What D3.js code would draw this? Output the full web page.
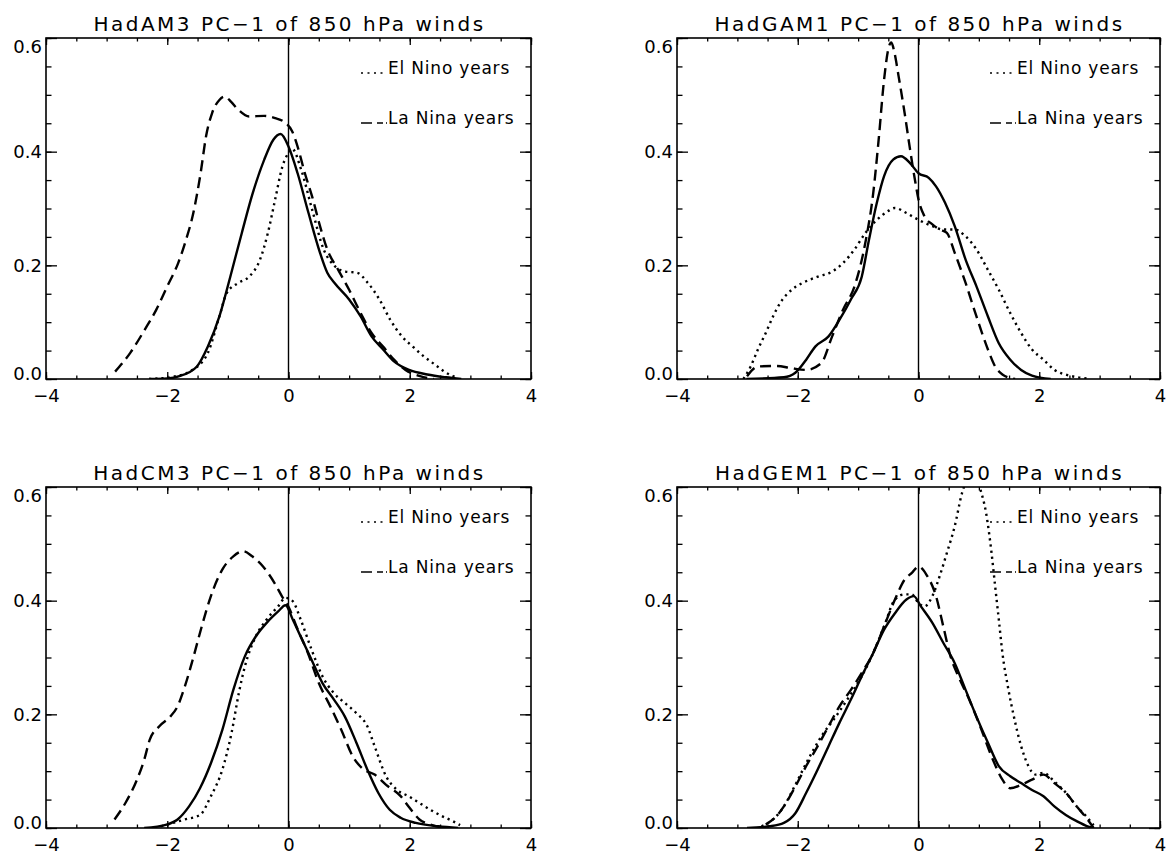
<!DOCTYPE html>
<html>
<head>
<meta charset="utf-8">
<script src="https://cdn.jsdelivr.net/npm/d3@7"></script>
<style>
  body { margin: 0; background: #fff; }
  svg { display: block; }
  text { font-family: "DejaVu Sans", sans-serif; fill: #000; }
</style>
</head>
<body>
<div id="chart"></div>
<script>
// panel titles, in reading order
const titles = [
  "HadAM3 PC\u22121 of 850 hPa winds",
  "HadGAM1 PC\u22121 of 850 hPa winds",
  "HadCM3 PC\u22121 of 850 hPa winds",
  "HadGEM1 PC\u22121 of 850 hPa winds"
]
const legendLabels = ["El Nino years", "La Nina years"]

const xTicks = [-4, -2, 0, 2, 4]
const yTicks = [0, 0.2, 0.4, 0.6]

// densities, [pc value, density]
// HadAM3
const hadam3All = [[-2.3,0],[-2.0,0.001],[-1.8,0.005],[-1.51,0.022],[-1.33,0.057],[-1.14,0.11],[-0.96,0.18],[-0.77,0.257],[-0.59,0.327],[-0.40,0.386],[-0.25,0.421],[-0.13,0.431],[0.0,0.409],[0.15,0.362],[0.33,0.292],[0.52,0.222],[0.64,0.187],[0.76,0.169],[1.0,0.14],[1.19,0.11],[1.37,0.075],[1.56,0.052],[1.74,0.031],[1.99,0.016],[2.29,0.008],[2.6,0.003],[2.85,0]]
const hadam3ElNino = [[-2.3,0],[-1.9,0.004],[-1.6,0.015],[-1.33,0.046],[-1.14,0.11],[-1.02,0.151],[-0.83,0.169],[-0.65,0.18],[-0.47,0.21],[-0.34,0.257],[-0.22,0.316],[-0.10,0.374],[0.0,0.398],[0.06,0.405],[0.21,0.368],[0.39,0.298],[0.58,0.228],[0.76,0.199],[0.94,0.189],[1.13,0.187],[1.31,0.169],[1.50,0.14],[1.68,0.104],[1.87,0.075],[2.05,0.057],[2.23,0.04],[2.42,0.025],[2.60,0.011],[2.79,0.002]]
const hadam3LaNina = [[-2.86,0.013],[-2.61,0.046],[-2.37,0.087],[-2.18,0.122],[-2.0,0.163],[-1.82,0.204],[-1.69,0.245],[-1.57,0.292],[-1.45,0.362],[-1.36,0.427],[-1.26,0.468],[-1.14,0.491],[-1.05,0.497],[-0.95,0.488],[-0.83,0.474],[-0.65,0.462],[-0.40,0.463],[-0.22,0.459],[-0.04,0.45],[0.06,0.436],[0.15,0.409],[0.27,0.362],[0.39,0.321],[0.52,0.269],[0.64,0.228],[0.82,0.192],[1.0,0.157],[1.19,0.116],[1.37,0.081],[1.56,0.057],[1.74,0.034],[1.93,0.016],[2.17,0.005],[2.4,0]]
// HadGAM1
const hadgam1All = [[-2.85,0],[-2.23,0.003],[-2.04,0.011],[-1.86,0.034],[-1.71,0.057],[-1.49,0.075],[-1.31,0.104],[-1.12,0.14],[-0.94,0.18],[-0.82,0.245],[-0.69,0.31],[-0.57,0.357],[-0.42,0.386],[-0.29,0.392],[-0.14,0.38],[0,0.362],[0.17,0.354],[0.29,0.339],[0.44,0.31],[0.60,0.269],[0.78,0.21],[0.96,0.163],[1.15,0.11],[1.33,0.063],[1.52,0.034],[1.70,0.016],[1.88,0.006],[2.19,0]]
const hadgam1ElNino = [[-2.9,0],[-2.78,0.022],[-2.66,0.052],[-2.53,0.081],[-2.41,0.11],[-2.29,0.134],[-2.10,0.157],[-1.92,0.169],[-1.67,0.18],[-1.43,0.189],[-1.25,0.204],[-1.06,0.228],[-0.88,0.257],[-0.69,0.28],[-0.51,0.295],[-0.39,0.301],[-0.20,0.292],[0,0.28],[0.23,0.269],[0.41,0.263],[0.60,0.263],[0.78,0.251],[0.96,0.228],[1.15,0.192],[1.33,0.157],[1.52,0.116],[1.70,0.081],[1.88,0.052],[2.07,0.034],[2.25,0.016],[2.50,0.006],[2.8,0.001]]
const hadgam1LaNina = [[-2.84,0.005],[-2.66,0.022],[-2.35,0.023],[-2.10,0.019],[-1.86,0.016],[-1.61,0.028],[-1.43,0.075],[-1.25,0.122],[-1.06,0.163],[-0.88,0.24],[-0.75,0.327],[-0.66,0.421],[-0.57,0.527],[-0.49,0.585],[-0.45,0.592],[-0.40,0.575],[-0.33,0.533],[-0.23,0.468],[-0.14,0.404],[-0.06,0.351],[0,0.316],[0.10,0.286],[0.23,0.272],[0.35,0.263],[0.47,0.257],[0.60,0.222],[0.78,0.169],[0.96,0.11],[1.15,0.052],[1.27,0.022],[1.39,0.008],[1.6,0]]
// HadCM3
const hadcm3All = [[-2.38,0],[-2.01,0.006],[-1.83,0.015],[-1.64,0.038],[-1.46,0.07],[-1.28,0.114],[-1.09,0.173],[-0.91,0.243],[-0.72,0.302],[-0.54,0.337],[-0.36,0.361],[-0.17,0.381],[-0.05,0.392],[0.07,0.367],[0.20,0.337],[0.38,0.296],[0.56,0.255],[0.75,0.226],[0.93,0.196],[1.12,0.15],[1.30,0.103],[1.48,0.062],[1.67,0.032],[1.85,0.018],[2.10,0.009],[2.47,0.003],[2.8,0]]
const hadcm3ElNino = [[-2.2,0],[-1.71,0.015],[-1.46,0.023],[-1.28,0.056],[-1.09,0.103],[-0.94,0.167],[-0.82,0.237],[-0.72,0.284],[-0.54,0.337],[-0.36,0.367],[-0.17,0.39],[-0.05,0.405],[0.07,0.399],[0.20,0.367],[0.38,0.314],[0.56,0.267],[0.75,0.237],[0.93,0.22],[1.12,0.202],[1.30,0.179],[1.42,0.144],[1.61,0.091],[1.79,0.067],[1.98,0.056],[2.16,0.044],[2.34,0.032],[2.53,0.021],[2.71,0.012],[2.83,0.005]]
const hadcm3LaNina = [[-2.87,0.015],[-2.69,0.044],[-2.50,0.085],[-2.38,0.12],[-2.29,0.155],[-2.13,0.179],[-1.95,0.196],[-1.83,0.214],[-1.71,0.249],[-1.58,0.296],[-1.43,0.355],[-1.28,0.408],[-1.09,0.455],[-0.91,0.478],[-0.75,0.487],[-0.60,0.478],[-0.42,0.46],[-0.23,0.431],[-0.11,0.408],[0.01,0.387],[0.13,0.355],[0.32,0.308],[0.50,0.255],[0.69,0.214],[0.87,0.173],[1.06,0.126],[1.24,0.103],[1.42,0.094],[1.61,0.076],[1.85,0.056],[1.98,0.038],[2.16,0.015],[2.34,0.006],[2.6,0]]
// HadGEM1
const hadgem1All = [[-2.84,0],[-2.47,0.003],[-2.23,0.009],[-2.04,0.026],[-1.86,0.062],[-1.67,0.103],[-1.49,0.144],[-1.31,0.185],[-1.12,0.226],[-0.94,0.267],[-0.75,0.308],[-0.57,0.349],[-0.39,0.378],[-0.20,0.402],[-0.08,0.408],[0.04,0.39],[0.23,0.361],[0.41,0.326],[0.60,0.29],[0.78,0.243],[0.96,0.196],[1.15,0.15],[1.33,0.109],[1.52,0.091],[1.70,0.079],[1.88,0.067],[2.07,0.056],[2.25,0.038],[2.44,0.023],[2.62,0.012],[2.80,0.003],[2.9,0]]
const hadgem1ElNino = [[-2.6,0.003],[-2.41,0.015],[-2.23,0.038],[-2.04,0.076],[-1.86,0.114],[-1.61,0.161],[-1.37,0.196],[-1.18,0.226],[-0.94,0.267],[-0.75,0.308],[-0.57,0.355],[-0.39,0.402],[-0.23,0.411],[-0.11,0.411],[0,0.396],[0.10,0.39],[0.23,0.408],[0.35,0.443],[0.47,0.484],[0.60,0.531],[0.72,0.589],[0.84,0.622],[0.93,0.63],[1.02,0.598],[1.12,0.554],[1.21,0.484],[1.27,0.425],[1.33,0.367],[1.39,0.308],[1.48,0.249],[1.58,0.196],[1.70,0.144],[1.82,0.109],[1.94,0.094],[2.07,0.097],[2.25,0.082],[2.44,0.062],[2.62,0.038],[2.80,0.018],[2.9,0.005]]
const hadgem1LaNina = [[-2.53,0.006],[-2.35,0.021],[-2.23,0.038],[-2.04,0.073],[-1.86,0.109],[-1.67,0.144],[-1.49,0.179],[-1.31,0.214],[-1.12,0.243],[-0.94,0.273],[-0.75,0.308],[-0.57,0.355],[-0.39,0.402],[-0.23,0.437],[-0.11,0.449],[0,0.46],[0.13,0.446],[0.29,0.408],[0.41,0.355],[0.53,0.302],[0.66,0.267],[0.84,0.226],[1.02,0.179],[1.21,0.126],[1.39,0.085],[1.52,0.07],[1.70,0.076],[1.88,0.085],[2.07,0.094],[2.25,0.079],[2.44,0.062],[2.62,0.038],[2.80,0.015],[2.9,0]]

const allYears = [hadam3All, hadgam1All, hadcm3All, hadgem1All]
const elNino = [hadam3ElNino, hadgam1ElNino, hadcm3ElNino, hadgem1ElNino]
const laNina = [hadam3LaNina, hadgam1LaNina, hadcm3LaNina, hadgem1LaNina]

const width = 1166
const height = 854
const colLeft = [46, 677]
const colWidth = [485, 483]
const rowTop = [38, 487]
const plotHeight = 341

const svg = d3.select("#chart").append("svg")
  .attr("width", width)
  .attr("height", height)

const defs = svg.append("defs")

titles.forEach((title, i) => {
  const col = i % 2
  const row = Math.floor(i / 2)
  const left = colLeft[col]
  const top = rowTop[row]
  const w = colWidth[col]

  const x = d3.scaleLinear().domain([-4, 4]).range([0, w])
  const y = d3.scaleLinear().domain([0, 0.6]).range([plotHeight, 0])

  const g = svg.append("g").attr("transform", `translate(${left},${top})`)

  defs.append("clipPath").attr("id", "clip" + i)
    .append("rect").attr("width", w).attr("height", plotHeight)

  // minor ticks on all four sides, pointing in
  const minorX = d3.range(-4, 4.001, 0.5)
  const minorY = d3.range(0, 0.6001, 0.05)
  const noLabels = g => g.selectAll("text").remove()
  const noDomain = g => g.select(".domain").remove()

  g.append("g").attr("transform", `translate(0,${plotHeight})`)
    .call(d3.axisBottom(x).tickValues(minorX).tickSize(-3.5).tickFormat(""))
    .call(noDomain).call(noLabels)
  g.append("g")
    .call(d3.axisTop(x).tickValues(minorX).tickSize(-3.5).tickFormat(""))
    .call(noDomain).call(noLabels)
  g.append("g")
    .call(d3.axisLeft(y).tickValues(minorY).tickSize(-5.5).tickFormat(""))
    .call(noDomain).call(noLabels)
  g.append("g").attr("transform", `translate(${w},0)`)
    .call(d3.axisRight(y).tickValues(minorY).tickSize(-5.5).tickFormat(""))
    .call(noDomain).call(noLabels)

  // major ticks + labels
  const xAxis = g.append("g").attr("transform", `translate(0,${plotHeight})`)
    .call(d3.axisBottom(x).tickValues(xTicks).tickSize(-7).tickPadding(10)
      .tickFormat(d => d < 0 ? "\u2212" + Math.abs(d) : d))
    .call(noDomain)
  xAxis.selectAll("text").attr("font-size", 18).attr("font-family", "DejaVu Sans")
    .attr("dy", "0.71em").attr("fill", "#000")

  g.append("g")
    .call(d3.axisTop(x).tickValues(xTicks).tickSize(-7).tickFormat(""))
    .call(noDomain).call(noLabels)

  const yAxis = g.append("g")
    .call(d3.axisLeft(y).tickValues(yTicks).tickSize(-11).tickPadding(-7)
      .tickFormat(d3.format(".1f")))
    .call(noDomain)
  yAxis.selectAll("text").attr("font-size", 18).attr("font-family", "DejaVu Sans")
    .attr("x", -4).attr("fill", "#000")
    .attr("y", d => d === 0.6 ? 9 : d === 0 ? -5 : 0)

  g.append("g").attr("transform", `translate(${w},0)`)
    .call(d3.axisRight(y).tickValues(yTicks).tickSize(-11).tickFormat(""))
    .call(noDomain).call(noLabels)

  g.selectAll(".tick line").attr("stroke", "#000").attr("stroke-width", 1.3)

  // frame
  g.append("rect")
    .attr("width", w).attr("height", plotHeight)
    .attr("fill", "none").attr("stroke", "#000").attr("stroke-width", 1.6)

  // zero line
  g.append("line")
    .attr("x1", x(0)).attr("x2", x(0))
    .attr("y1", 0).attr("y2", plotHeight)
    .attr("stroke", "#000").attr("stroke-width", 1.4)

  const line = d3.line()
    .x(d => x(d[0]))
    .y(d => y(d[1]))
    .curve(d3.curveMonotoneX)

  const curves = g.append("g").attr("clip-path", `url(#clip${i})`)

  curves.append("path").datum(allYears[i])
    .attr("d", line).attr("fill", "none")
    .attr("stroke", "#000").attr("stroke-width", 2.4)

  curves.append("path").datum(laNina[i])
    .attr("d", line).attr("fill", "none")
    .attr("stroke", "#000").attr("stroke-width", 2.4)
    .attr("stroke-dasharray", "11,6")

  curves.append("path").datum(elNino[i])
    .attr("d", line).attr("fill", "none")
    .attr("stroke", "#000").attr("stroke-width", 2.4)
    .attr("stroke-dasharray", "2.2,4")

  // legend
  const legendX = w - 143
  const legendY = [36, 86]
  const legendDash = ["2,4.5", "11,5,6,3"]

  legendLabels.forEach((label, k) => {
    g.append("line")
      .attr("x1", legendX - 27).attr("x2", legendX - 1)
      .attr("y1", legendY[k] - 1).attr("y2", legendY[k] - 1)
      .attr("stroke", "#000").attr("stroke-width", 1.6)
      .attr("stroke-dasharray", legendDash[k])
    g.append("text")
      .attr("x", legendX).attr("y", legendY[k])
      .attr("font-size", 17)
      .attr("letter-spacing", 0.8)
      .text(label)
  })

  // title
  svg.append("text")
    .attr("x", left + w / 2 + 1)
    .attr("y", top - 7)
    .attr("text-anchor", "middle")
    .attr("font-size", 20)
    .attr("letter-spacing", 2.5)
    .text(title)
})
</script>
</body>
</html>
